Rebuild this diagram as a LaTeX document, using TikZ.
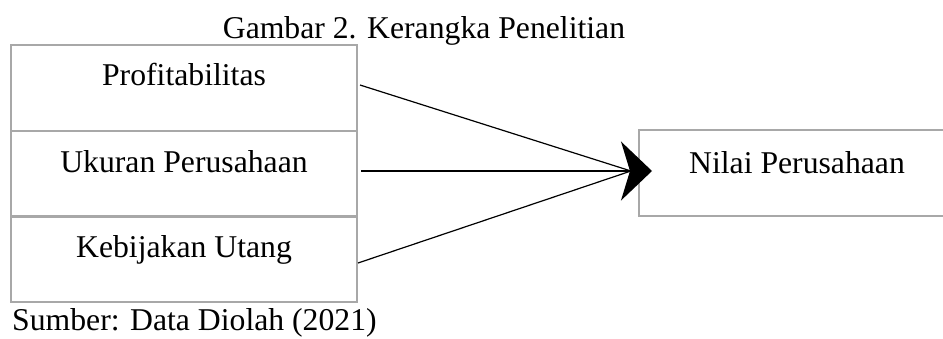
\documentclass[tikz,border=0pt]{standalone}
\usepackage{fontspec}
\setmainfont{Liberation Serif}
\usetikzlibrary{arrows.meta}
\definecolor{boxgray}{HTML}{A8A8A8}
\tikzset{
  varbox/.style={draw=boxgray, line width=2.4pt, rectangle, minimum width=346pt,
    minimum height=86pt, inner sep=0pt, outer sep=0pt},
  lbl/.style={anchor=base, inner sep=0pt, font=\fontsize{31.7pt}{38pt}\selectfont},
  link/.style={line width=1.2pt, black},
  bighead/.style={-{Stealth[length=31pt, width=59pt, inset=9pt]}}
}
\begin{document}
\begin{tikzpicture}[x=1pt, y=-1pt]
  \useasboundingbox (0,0) rectangle (943,338);

  % caption
  \node[lbl] (title) at (424,38) {Gambar 2. Kerangka Penelitian};

  % independent variables
  \node[varbox] (b1) at (184,88) {};
  \node[varbox] (b2) at (184,174) {};
  \node[varbox] (b3) at (184,259) {};
  \node[lbl] (t1) at (184,85) {Profitabilitas};
  \node[lbl] (t2) at (184,172) {Ukuran Perusahaan};
  \node[lbl] (t3) at (184,257) {Kebijakan Utang};

  % dependent variable
  \node[varbox, minimum width=360pt, anchor=north west] (b4) at (639,130) {};
  \node[lbl] (t4) at (797,173) {Nilai Perusahaan};

  % connectors
  \coordinate (meet) at (631,171);
  \coordinate (tip) at (652,171);
  \draw[link] ([xshift=3pt,yshift=3pt]b1.east) -- (meet);
  \draw[link] ([xshift=1pt,yshift=-4pt]b3.east) -- (meet);
  \draw[link, bighead] ([xshift=4pt,yshift=3pt]b2.east) -- (tip);

  % source
  \node[lbl, anchor=base west] (src) at (12,330) {Sumber: Data Diolah (2021)};
\end{tikzpicture}
\end{document}
